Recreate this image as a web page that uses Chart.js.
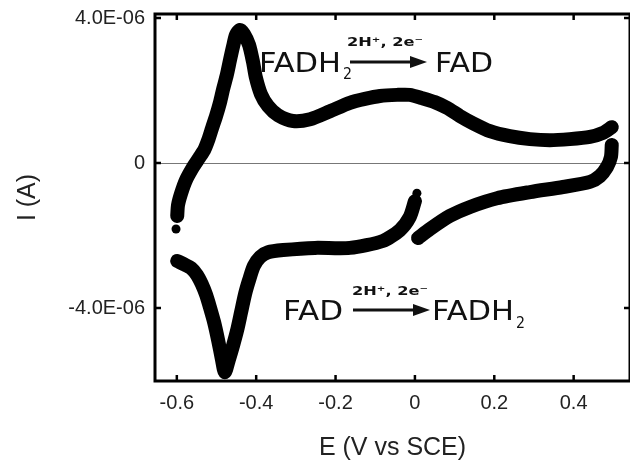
<!DOCTYPE html>
<html>
<head>
<meta charset="utf-8">
<script src="https://cdn.jsdelivr.net/npm/chart.js@4.4.0/dist/chart.umd.min.js"></script>
<style>
  html, body { margin: 0; padding: 0; background: #fff; }
  #wrap { width: 630px; height: 461px; }
</style>
</head>
<body>
<div id="wrap"><canvas id="cv" width="630" height="461"></canvas></div>
<script>
// Cyclic voltammogram of FAD
// scan 1: 0 V -> -0.6 V (FAD reduction)
const cathodicE = [0.000, -0.013, -0.038, -0.081, -0.164, -0.252, -0.332, -0.370, -0.390, -0.406,
  -0.418, -0.428, -0.438, -0.448, -0.458, -0.469, -0.479, -0.486, -0.496, -0.506,
  -0.516, -0.526, -0.537, -0.549, -0.564, -0.582, -0.599];
const cathodicI = [-1.05e-6, -1.49e-6, -1.85e-6, -2.15e-6, -2.34e-6, -2.34e-6, -2.40e-6, -2.46e-6, -2.59e-6, -2.84e-6,
  -3.23e-6, -3.61e-6, -4.11e-6, -4.61e-6, -5.02e-6, -5.43e-6, -5.77e-6, -5.43e-6, -4.88e-6, -4.39e-6,
  -4.00e-6, -3.64e-6, -3.34e-6, -3.09e-6, -2.90e-6, -2.79e-6, -2.70e-6];

// scan 2: -0.6 V -> 0.5 V (FADH2 oxidation)
const anodicE = [-0.599, -0.597, -0.589, -0.577, -0.559, -0.544, -0.531, -0.521, -0.511, -0.501,
  -0.491, -0.484, -0.474, -0.466, -0.458, -0.451, -0.441, -0.431, -0.418, -0.408,
  -0.401, -0.388, -0.370, -0.345, -0.307, -0.264, -0.214, -0.164, -0.126, -0.088,
  -0.045, -0.013, 0.018, 0.050, 0.081, 0.113, 0.146, 0.189, 0.239, 0.290,
  0.340, 0.390, 0.441, 0.474, 0.496];
const anodicI = [-1.46e-6, -1.16e-6, -0.83e-6, -0.47e-6, -0.11e-6, 0.14e-6, 0.36e-6, 0.63e-6, 0.97e-6, 1.30e-6,
  1.68e-6, 2.01e-6, 2.43e-6, 2.84e-6, 3.23e-6, 3.53e-6, 3.67e-6, 3.56e-6, 3.26e-6, 2.79e-6,
  2.37e-6, 1.90e-6, 1.57e-6, 1.32e-6, 1.16e-6, 1.21e-6, 1.43e-6, 1.66e-6, 1.77e-6, 1.85e-6,
  1.88e-6, 1.88e-6, 1.79e-6, 1.68e-6, 1.52e-6, 1.30e-6, 1.10e-6, 0.88e-6, 0.74e-6, 0.66e-6,
  0.63e-6, 0.66e-6, 0.72e-6, 0.83e-6, 0.99e-6];

// scan 3: 0.5 V -> 0 V
const returnE = [0.496, 0.494, 0.484, 0.466, 0.441, 0.373, 0.290, 0.207, 0.139, 0.088, 0.038, 0.008];
const returnI = [0.50e-6, 0.17e-6, -0.11e-6, -0.36e-6, -0.52e-6, -0.66e-6, -0.80e-6, -0.97e-6, -1.21e-6, -1.46e-6, -1.82e-6, -2.07e-6];

// single points at the switching potentials
const switchE = [-0.602, 0.005];
const switchI = [-1.82e-6, -0.83e-6];

const xTicks = [-0.6, -0.4, -0.2, 0, 0.2, 0.4];
const yTicks = [-4.0e-6, 0, 4.0e-6];
const yTickLabels = ['-4.0E-06', '0', '4.0E-06'];

function toPoints(xs, ys) {
  return xs.map((x, i) => ({ x: x, y: ys[i] }));
}

const band = {
  showLine: true,
  borderColor: '#000',
  backgroundColor: '#000',
  borderWidth: 14,
  borderCapStyle: 'round',
  borderJoinStyle: 'round',
  pointRadius: 0,
  tension: 0.25,
  clip: false,
};

// draws one word squeezed/stretched to a given width
function word(ctx, text, x, y, font, width) {
  ctx.save();
  ctx.font = font;
  const w = ctx.measureText(text).width;
  ctx.translate(x, y);
  ctx.scale(width / w, 1);
  ctx.fillText(text, 0, 0);
  ctx.restore();
}

function arrow(ctx, x0, x1, y) {
  ctx.beginPath();
  ctx.moveTo(x0, y);
  ctx.lineTo(x1 - 14, y);
  ctx.lineWidth = 3;
  ctx.stroke();
  ctx.beginPath();
  ctx.moveTo(x1 - 17, y - 6);
  ctx.lineTo(x1, y);
  ctx.lineTo(x1 - 17, y + 6);
  ctx.closePath();
  ctx.fill();
}

const framePlugin = {
  id: 'frame',
  beforeDatasetsDraw(chart) {
    const { ctx, chartArea: a, scales } = chart;
    const y0 = Math.round(scales.y.getPixelForValue(0)) + 0.5;
    ctx.save();
    ctx.strokeStyle = '#777';
    ctx.lineWidth = 1;
    ctx.beginPath();
    ctx.moveTo(a.left, y0);
    ctx.lineTo(a.right, y0);
    ctx.stroke();
    ctx.restore();
  },
  afterDatasetsDraw(chart) {
    const { ctx, chartArea: a, scales } = chart;
    ctx.save();
    ctx.strokeStyle = '#000';
    ctx.fillStyle = '#000';
    ctx.lineWidth = 2.5;
    const len = 6;
    xTicks.forEach((v) => {
      const px = scales.x.getPixelForValue(v);
      ctx.beginPath();
      ctx.moveTo(px, a.bottom); ctx.lineTo(px, a.bottom - len);
      ctx.moveTo(px, a.top); ctx.lineTo(px, a.top + len);
      ctx.stroke();
    });
    yTicks.forEach((v) => {
      const py = scales.y.getPixelForValue(v);
      ctx.beginPath();
      ctx.moveTo(a.left, py); ctx.lineTo(a.left + len, py);
      ctx.moveTo(a.right, py); ctx.lineTo(a.right - len, py);
      ctx.stroke();
    });
    ctx.lineWidth = 3;
    ctx.strokeRect(a.left, a.top, a.right - a.left, a.bottom - a.top);

    // reaction labels
    ctx.fillStyle = '#111';
    ctx.strokeStyle = '#111';
    const big = '27px "DejaVu Sans"';
    const sub = '15px "DejaVu Sans"';
    const cond = 'bold 13px "DejaVu Sans"';
    word(ctx, 'FADH', 259, 72, big, 82);
    word(ctx, '2', 343, 79, sub, 9);
    word(ctx, '2H\u207A, 2e\u207B', 347, 46, cond, 76);
    arrow(ctx, 350, 427, 62);
    word(ctx, 'FAD', 435, 72, big, 58);

    word(ctx, 'FAD', 283, 320, big, 60);
    word(ctx, '2H\u207A, 2e\u207B', 352, 295, cond, 76);
    arrow(ctx, 353, 430, 310);
    word(ctx, 'FADH', 432, 320, big, 82);
    word(ctx, '2', 516, 328, sub, 9);
    ctx.restore();
  },
};

new Chart(document.getElementById('cv'), {
  type: 'scatter',
  data: {
    datasets: [
      Object.assign({ data: toPoints(cathodicE, cathodicI) }, band),
      Object.assign({ data: toPoints(anodicE, anodicI) }, band),
      Object.assign({ data: toPoints(returnE, returnI) }, band),
      {
        data: toPoints(switchE, switchI),
        pointRadius: 4.5,
        pointBackgroundColor: '#000',
        pointBorderWidth: 0,
        showLine: false,
      },
    ],
  },
  options: {
    responsive: false,
    animation: false,
    events: [],
    layout: { autoPadding: false, padding: { top: 14, right: 0, left: 0, bottom: 0 } },
    plugins: {
      legend: { display: false },
      tooltip: { enabled: false },
    },
    scales: {
      x: {
        type: 'linear',
        min: -0.655,
        max: 0.542,
        afterBuildTicks: (s) => { s.ticks = xTicks.map((v) => ({ value: v })); },
        afterFit: (s) => { s.height = 80; s.paddingLeft = 0; s.paddingRight = 0; },
        grid: { display: false, drawTicks: false },
        border: { display: false },
        ticks: {
          padding: 10,
          color: '#222',
          autoSkip: false,
          maxRotation: 0,
          font: { family: 'Liberation Sans', size: 20 },
          callback: (v) => (v === 0 ? '0' : String(v)),
        },
        title: {
          display: true,
          text: 'E (V vs SCE)',
          color: '#222',
          font: { family: 'Liberation Sans', size: 25, lineHeight: 1 },
          padding: { top: 0, bottom: 0 },
        },
      },
      y: {
        type: 'linear',
        min: -6.01e-6,
        max: 4.11e-6,
        afterBuildTicks: (s) => { s.ticks = yTicks.map((v) => ({ value: v })); },
        afterFit: (s) => { s.width = 155; s.paddingTop = 0; s.paddingBottom = 0; },
        grid: { display: false, drawTicks: false },
        border: { display: false },
        ticks: {
          padding: 10,
          color: '#222',
          autoSkip: false,
          font: { family: 'Liberation Sans', size: 20 },
          callback: (v, i) => yTickLabels[i],
        },
        title: {
          display: true,
          text: 'I (A)',
          color: '#222',
          font: { family: 'Liberation Sans', size: 25 },
          padding: { top: 13, bottom: 0 },
        },
      },
    },
  },
  plugins: [framePlugin],
});
</script>
</body>
</html>
